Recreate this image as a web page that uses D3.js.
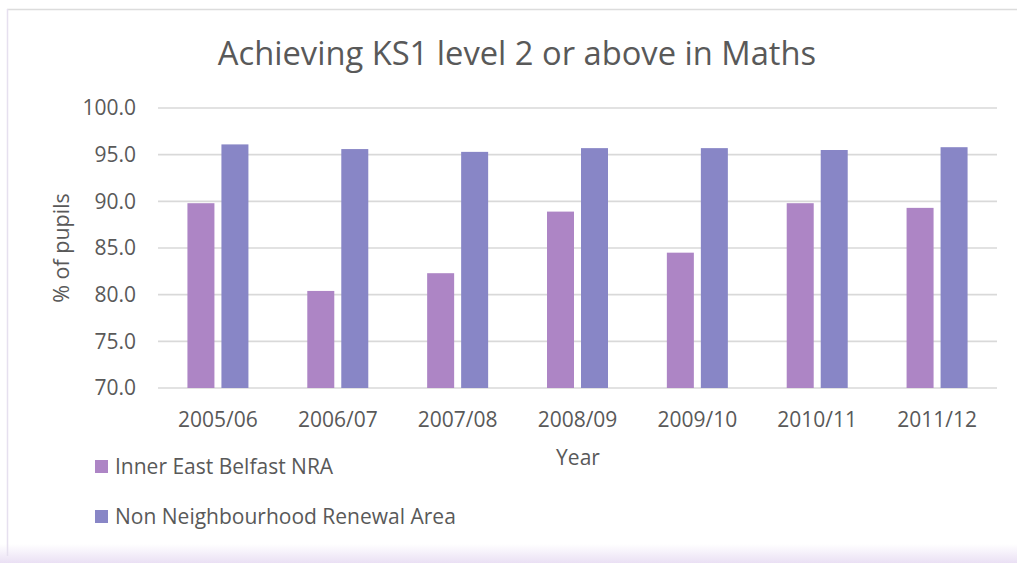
<!DOCTYPE html>
<html lang="en">
<head>
  <meta charset="utf-8" />
  <title>Achieving KS1 level 2 or above in Maths</title>
  <script src="https://d3js.org/d3.v7.min.js"></script>
  <style>
    html, body { margin: 0; padding: 0; background: #fff; }
    svg { display: block; font-family: "Open Sans", sans-serif; }
    .grid line { stroke: #d9d9d9; stroke-width: 1.6px; }
    .txt { fill: #595959; }
  </style>
</head>
<body>
<div id="chart"></div>
<script>
  // data
  const years = ["2005/06", "2006/07", "2007/08", "2008/09", "2009/10", "2010/11", "2011/12"];
  const innerEast = [89.8, 80.4, 82.3, 88.9, 84.5, 89.8, 89.3];
  const nonNRA = [96.1, 95.6, 95.3, 95.7, 95.7, 95.5, 95.8];
  const seriesNames = ["Inner East Belfast NRA", "Non Neighbourhood Renewal Area"];
  const seriesColors = ["#ad85c5", "#8886c6"];
  const yTicks = [70, 75, 80, 85, 90, 95, 100];

  const W = 1017, H = 563;
  const svg = d3.select("#chart").append("svg")
    .attr("width", W)
    .attr("height", H);

  // frame / background bits
  const defs = svg.append("defs");
  const grad = defs.append("linearGradient")
    .attr("id", "bottomFade").attr("x1", 0).attr("x2", 0).attr("y1", 0).attr("y2", 1);
  grad.append("stop").attr("offset", "0%").attr("stop-color", "#ffffff");
  grad.append("stop").attr("offset", "100%").attr("stop-color", "#eae0f4");
  svg.append("rect").attr("x", 0).attr("y", 544).attr("width", W).attr("height", 19)
    .attr("fill", "url(#bottomFade)");
  svg.append("line").attr("x1", 7).attr("x2", W).attr("y1", 9.5).attr("y2", 9.5)
    .attr("stroke", "#dcdcdc").attr("stroke-width", 1.5);
  svg.append("line").attr("x1", 7.5).attr("x2", 7.5).attr("y1", 9).attr("y2", 556)
    .attr("stroke", "#e6e0ef").attr("stroke-width", 1.5);

  const plot = { left: 158, right: 997, top: 108, bottom: 388 };

  const x = d3.scaleBand()
    .domain(years)
    .range([plot.left, plot.right])
    .paddingInner(0)
    .paddingOuter(0);

  const y = d3.scaleLinear()
    .domain([70, 100])
    .range([plot.bottom, plot.top]);

  const barW = 27, gap = 7;

  // gridlines
  svg.append("g")
    .attr("class", "grid")
    .selectAll("line")
    .data(yTicks)
    .join("line")
    .attr("x1", plot.left)
    .attr("x2", plot.right)
    .attr("y1", d => y(d))
    .attr("y2", d => y(d));

  // y tick labels
  svg.append("g")
    .selectAll("text")
    .data(yTicks)
    .join("text")
    .attr("class", "txt")
    .attr("x", 136)
    .attr("y", d => y(d))
    .attr("dy", "0.35em")
    .attr("text-anchor", "end")
    .attr("font-size", 21)
    .text(d => d.toFixed(1));

  // bars
  const series = [innerEast, nonNRA];
  series.forEach((vals, si) => {
    svg.append("g")
      .selectAll("rect")
      .data(vals)
      .join("rect")
      .attr("x", (d, i) => {
        const c = x(years[i]) + x.bandwidth() / 2;
        return si === 0 ? c - gap / 2 - barW : c + gap / 2;
      })
      .attr("y", d => y(d))
      .attr("width", barW)
      .attr("height", d => y(70) - y(d))
      .attr("fill", seriesColors[si]);
  });

  // category labels
  svg.append("g")
    .selectAll("text")
    .data(years)
    .join("text")
    .attr("class", "txt")
    .attr("x", d => x(d) + x.bandwidth() / 2)
    .attr("y", 427)
    .attr("text-anchor", "middle")
    .attr("font-size", 21)
    .text(d => d);

  // titles
  svg.append("text")
    .attr("class", "txt")
    .attr("x", 517)
    .attr("y", 65)
    .attr("text-anchor", "middle")
    .attr("font-size", 32.7)
    .text("Achieving KS1 level 2 or above in Maths");

  svg.append("text")
    .attr("class", "txt")
    .attr("x", 578)
    .attr("y", 465)
    .attr("text-anchor", "middle")
    .attr("font-size", 21)
    .text("Year");

  svg.append("text")
    .attr("class", "txt")
    .attr("transform", "translate(69,248) rotate(-90)")
    .attr("text-anchor", "middle")
    .attr("font-size", 21.5)
    .text("% of pupils");

  // legend
  const legend = svg.append("g")
    .selectAll("g")
    .data(seriesNames)
    .join("g")
    .attr("transform", (d, i) => `translate(95, ${467 + i * 50})`);
  legend.append("rect")
    .attr("x", 0).attr("y", -7)
    .attr("width", 13).attr("height", 13)
    .attr("fill", (d, i) => seriesColors[i]);
  legend.append("text")
    .attr("class", "txt")
    .attr("x", 20)
    .attr("dy", "0.35em")
    .attr("font-size", 21)
    .text(d => d);
</script>
</body>
</html>
